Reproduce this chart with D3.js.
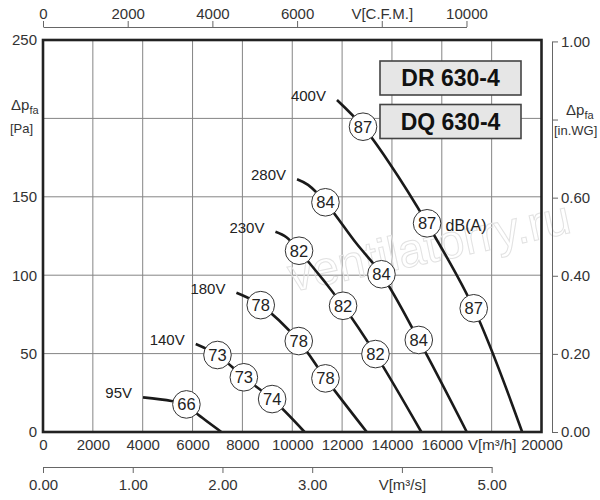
<!DOCTYPE html>
<html><head><meta charset="utf-8">
<script src="https://cdn.jsdelivr.net/npm/d3@7"></script>
<style>
body{margin:0;background:#fff;}
text{font-family:"Liberation Sans",Arial,sans-serif;fill:#333;}
</style></head>
<body>
<svg id="c" width="600" height="500"></svg>
<script>
// ---- data ----
const flowTicks = [0,2000,4000,6000,8000,10000,12000,14000,16000,18000,20000];
const flowTickLabels = ["0","2000","4000","6000","8000","10000","12000","14000","16000","V[m³/h]","20000"];
const paTicks = [0,50,100,150,200,250];
const paTickLabels = ["0","50","100","150","","250"];
const cfmTicks = [0,2000,4000,6000,8000,10000];
const cfmTickLabels = ["0","2000","4000","6000","V[C.F.M.]","10000"];
const m3sTicks = [0,1,2,3,4,5];
const m3sTickLabels = ["0.00","1.00","2.00","3.00","V[m³/s]","5.00"];
const inwgTicks = [0,0.2,0.4,0.6,0.8,1.0];
const inwgTickLabels = ["0.00","0.20","0.40","0.60","","1.00"];

const voltages = ["95V","140V","180V","230V","280V","400V"];
const curve95  = [[4013,22.1],[5152,19.8],[5754,17.6],[6156,11.9],[7155,0]];
const curve140 = [[6128,56.1],[7000,49.1],[8058,34.9],[9193,21.0],[10494,0]];
const curve180 = [[7761,88.8],[8736,80.9],[10261,58.0],[11332,34.2],[12990,0]];
const curve230 = [[9326,127.7],[9767,124.2],[10273,115.6],[12039,80.5],[13339,49.7],[15180,0]];
const curve280 = [[10192,161.2],[10634,157.6],[11332,146.5],[12578,120.2],[13579,100.6],[15076,58.7],[17002,0]];
const curve400 = [[11795,211.7],[12839,194.7],[13867,172.2],[15410,133.1],[17281,78.9],[19225,0]];
const curves = [curve95,curve140,curve180,curve230,curve280,curve400];

const db95  = [[5754,17.6,66]];
const db140 = [[7000,49.1,73],[8058,34.9,73],[9193,21.0,74]];
const db180 = [[8736,80.9,78],[10261,58.0,78],[11332,34.2,78]];
const db230 = [[10273,115.6,82],[12039,80.5,82],[13339,49.7,82]];
const db280 = [[11332,146.5,84],[13579,100.6,84],[15076,58.7,84]];
const db400 = [[12839,194.7,87],[15410,133.1,87],[17281,78.9,87]];
const dbMarks = [db95,db140,db180,db230,db280,db400];

const models = ["DR 630-4","DQ 630-4"];

// ---- scales ----
const svg = d3.select("#c");
const x = d3.scaleLinear().domain([0,20000]).range([43,541.5]);
const y = d3.scaleLinear().domain([0,250]).range([432,40]);
const xCfm = d3.scaleLinear().domain([0,10000]).range([x(0), x(16990)]);
const xM3s = d3.scaleLinear().domain([0,5]).range([x(0), x(18000)]);
const yWg = d3.scaleLinear().domain([0,1]).range([y(0), y(249.09)]);

// grid
const grid = svg.append("g").attr("stroke","#858585").attr("stroke-width",1);
grid.selectAll(".v").data(flowTicks.slice(1,-1)).join("line")
  .attr("x1",d=>x(d)).attr("x2",d=>x(d)).attr("y1",y(0)).attr("y2",y(250));
grid.selectAll(".h").data(paTicks.slice(1,-1)).join("line")
  .attr("y1",d=>y(d)).attr("y2",d=>y(d)).attr("x1",x(0)).attr("x2",x(20000));

// watermark
svg.append("text").text("ventilatorry.ru")
  .attr("transform","translate(292,292) rotate(-12)")
  .style("font-size","48px").style("fill","none")
  .attr("stroke","#e2e2e2").attr("stroke-width",1);

// model boxes
const boxG = svg.append("g");
models.forEach((m,i)=>{
  const by = [61,104.5][i];
  boxG.append("rect").attr("x",380).attr("y",by).attr("width",141).attr("height",34)
    .attr("fill","#e6e6e6").attr("stroke","#444").attr("stroke-width",1.6);
  boxG.append("text").text(m).attr("x",450.5).attr("y",by+17).attr("dy","0.36em")
    .attr("text-anchor","middle").style("font-size","23px").style("font-weight","bold").style("fill","#111");
});

// curves
const line = d3.line().x(d=>x(d[0])).y(d=>y(d[1])).curve(d3.curveCatmullRom.alpha(0.5));
const cg = svg.append("g");
curves.forEach((c,i)=>{
  cg.append("path").attr("d",line(c)).attr("fill","none").attr("stroke","#1a1a1a").attr("stroke-width",2.6);
  cg.append("text").text(voltages[i]).attr("x",x(c[0][0])-11).attr("y",y(c[0][1])-4.5)
    .attr("dy","0.35em").attr("text-anchor","end").style("font-size","15px").style("fill","#222");
});
dbMarks.forEach(arr=>{
  arr.forEach(d=>{
    cg.append("circle").attr("cx",x(d[0])).attr("cy",y(d[1])).attr("r",13.8)
      .attr("fill","#fff").attr("stroke","#333").attr("stroke-width",1);
    cg.append("text").text(d[2]).attr("x",x(d[0])).attr("y",y(d[1])).attr("dy","0.36em")
      .attr("text-anchor","middle").style("font-size","16.5px").style("fill","#222");
  });
});
cg.append("text").text("dB(A)").attr("x",x(db400[1][0])+18.5).attr("y",y(db400[1][1])+2)
  .attr("dy","0.36em").style("font-size","16px").style("fill","#222");

// frame
svg.append("rect").attr("x",x(0)).attr("y",y(250)).attr("width",x(20000)-x(0)).attr("height",y(0)-y(250))
  .attr("fill","none").attr("stroke","#222").attr("stroke-width",2.6);

function styleAxis(g){
  g.selectAll("text").style("font-size","15px").style("font-family","'Liberation Sans',Arial,sans-serif").attr("fill","#333");
  g.selectAll("line,path").attr("stroke","#666");
}
// bottom m3/h labels
svg.append("g").attr("transform",`translate(0,${y(0)})`)
  .call(d3.axisBottom(x).tickValues(flowTicks).tickSize(0).tickPadding(7).tickFormat((d,i)=>flowTickLabels[i]))
  .call(g=>g.select(".domain").remove()).call(styleAxis);
// left Pa labels
svg.append("g").attr("transform",`translate(${x(0)},0)`)
  .call(d3.axisLeft(y).tickValues(paTicks).tickSize(0).tickPadding(6).tickFormat((d,i)=>paTickLabels[i]))
  .call(g=>g.select(".domain").remove()).call(styleAxis);
// top CFM axis
svg.append("g").attr("transform","translate(0,27)")
  .call(d3.axisTop(xCfm).tickValues(cfmTicks).tickSize(6).tickSizeOuter(0).tickPadding(2).tickFormat((d,i)=>cfmTickLabels[i]))
  .call(styleAxis);
// bottom m3/s axis
svg.append("g").attr("transform","translate(0,467)")
  .call(d3.axisBottom(xM3s).tickValues(m3sTicks).tickSize(6).tickSizeOuter(0).tickPadding(6).tickFormat((d,i)=>m3sTickLabels[i]))
  .call(styleAxis);
// right in.WG axis
svg.append("g").attr("transform","translate(552,0)")
  .call(d3.axisRight(yWg).tickValues(inwgTicks).tickSize(6).tickSizeOuter(0).tickPadding(3).tickFormat((d,i)=>inwgTickLabels[i]))
  .call(styleAxis);

// axis titles
const lt = svg.append("text").attr("x",11).attr("y",110).style("font-size","15px");
lt.append("tspan").text("Δp");
lt.append("tspan").text("fa").attr("dy",4).style("font-size","11px");
svg.append("text").attr("x",10).attr("y",133).text("[Pa]").style("font-size","13px");
const rt = svg.append("text").attr("x",566).attr("y",115).style("font-size","15px");
rt.append("tspan").text("Δp");
rt.append("tspan").text("fa").attr("dy",4).style("font-size","11px");
svg.append("text").attr("x",554).attr("y",135).text("[in.WG]").style("font-size","13px");
</script>
</body></html>
